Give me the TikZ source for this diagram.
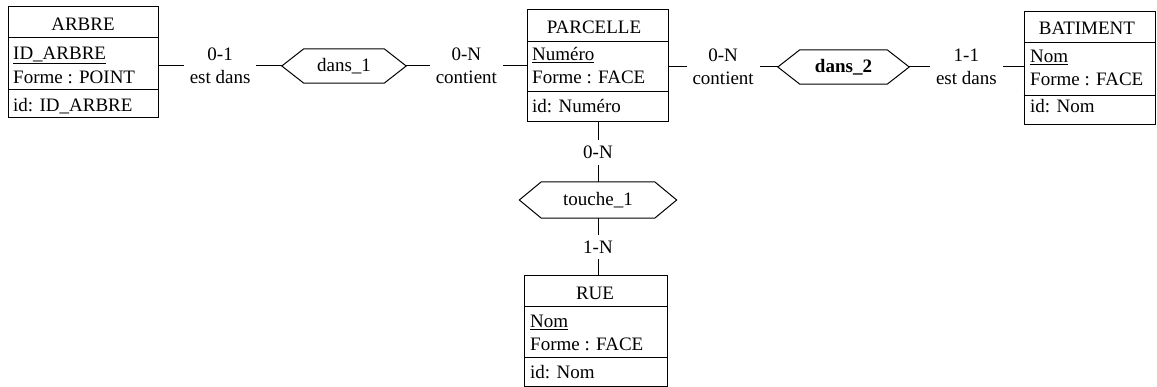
\documentclass[tikz,border=0pt]{standalone}
\usepackage{fontspec}
\setmainfont{Liberation Serif}

\tikzset{
  entity/.style={draw, line width=1pt, inner sep=0pt},
  txt/.style={inner sep=0pt, font=\fontsize{19}{23}\selectfont},
  attr/.style={txt, anchor=base west},
  card/.style={txt, fill=white, align=center, inner xsep=6pt, inner ysep=3pt},
  rel/.style={txt, minimum height=34pt},
  link/.style={line width=1pt},
}
% hexagon round a relation node, with its two side points
\newcommand{\relhex}[1]{%
  \coordinate (#1-w) at ([xshift=-22pt]#1.west);
  \coordinate (#1-e) at ([xshift=22pt]#1.east);
  \draw[link] (#1-w) -- (#1.north west) -- (#1.north east) -- (#1-e)
    -- (#1.south east) -- (#1.south west) -- cycle;}

\begin{document}
\begin{tikzpicture}[x=1pt,y=-1pt]
      \useasboundingbox (0,0) rectangle (1157,387);
      % entities
      \node[entity, minimum width=150pt, minimum height=111pt] (arbre) at (83,62.5) {};
      \draw[link] (arbre.west |- 0,38) -- (arbre.east |- 0,38);
      \draw[link] (arbre.west |- 0,90) -- (arbre.east |- 0,90);
      \node[txt] (arbre-nm) at (83,24) {ARBRE};
      \node[attr] (arbre-a1) at (13,59.5) {\underline{ID\_ARBRE}};
      \node[attr] (arbre-a2) at (13,83.5) {Forme : POINT};
      \node[attr] (arbre-id) at (13,111.5) {id: ID\_ARBRE};

      \node[entity, minimum width=141pt, minimum height=112pt] (parcelle) at (597.5,66) {};
      \draw[link] (parcelle.west |- 0,42) -- (parcelle.east |- 0,42);
      \draw[link] (parcelle.west |- 0,92) -- (parcelle.east |- 0,92);
      \node[txt] (parcelle-nm) at (594,27) {PARCELLE};
      \node[attr] (parcelle-a1) at (532,61) {\underline{Numéro}};
      \node[attr] (parcelle-a2) at (532,84) {Forme : FACE};
      \node[attr] (parcelle-id) at (532,113) {id: Numéro};

      \node[entity, minimum width=131pt, minimum height=113pt] (batiment) at (1089.5,68.5) {};
      \draw[link] (batiment.west |- 0,43) -- (batiment.east |- 0,43);
      \draw[link] (batiment.west |- 0,96) -- (batiment.east |- 0,96);
      \node[txt] (batiment-nm) at (1087,28) {BATIMENT};
      \node[attr] (batiment-a1) at (1030,63) {\underline{Nom}};
      \node[attr] (batiment-a2) at (1030,86) {Forme : FACE};
      \node[attr] (batiment-id) at (1030,113) {id: Nom};

      \node[entity, minimum width=143pt, minimum height=110pt] (rue) at (595.5,331) {};
      \draw[link] (rue.west |- 0,307) -- (rue.east |- 0,307);
      \draw[link] (rue.west |- 0,358) -- (rue.east |- 0,358);
      \node[txt] (rue-nm) at (595,293) {RUE};
      \node[attr] (rue-a1) at (530,328) {\underline{Nom}};
      \node[attr] (rue-a2) at (530,351) {Forme : FACE};
      \node[attr] (rue-id) at (530,378) {id: Nom};

      % relations
      \node[rel, minimum width=80pt] (dans1) at (344,66) {dans\_1};
      \relhex{dans1}
      \node[rel, minimum width=87pt] (dans2) at (843.5,67) {\bfseries dans\_2};
      \relhex{dans2}
      \node[rel, minimum width=113pt, minimum height=36pt] (touche1) at (598,200) {touche\_1};
      \relhex{touche1}

      % roles
      \draw[link] (arbre.east |- dans1-w) -- (dans1-w)
        node[card, midway] (r1) {0-1\\est dans};
      \draw[link] (dans1-e) -- (parcelle.west |- dans1-e)
        node[card, midway] (r2) {0-N\\contient};
      \draw[link] (parcelle.east |- dans2-w) -- (dans2-w)
        node[card, midway] (r3) {0-N\\contient};
      \draw[link] (dans2-e) -- (batiment.west |- dans2-e)
        node[card, midway] (r4) {1-1\\est dans};
      \draw[link] (touche1.north |- parcelle.south) -- (touche1.north)
        node[card, midway, inner ysep=6pt] (r5) {0-N};
      \draw[link] (touche1.south) -- (touche1.south |- rue.north)
        node[card, midway, inner ysep=6pt] (r6) {1-N};
    \end{tikzpicture}
\end{document}
